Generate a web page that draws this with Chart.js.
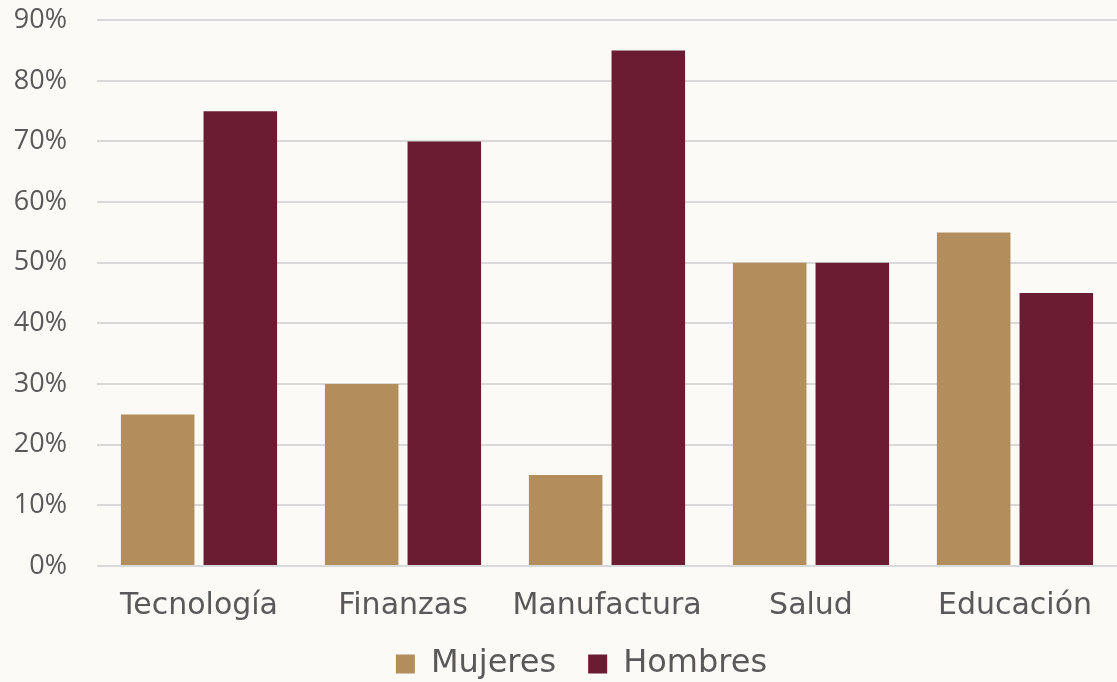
<!DOCTYPE html>
<html>
<head>
<meta charset="utf-8">
<script src="https://cdn.jsdelivr.net/npm/chart.js@4.4.1/dist/chart.umd.min.js"></script>
<style>
  html, body { margin: 0; padding: 0; background: #fbfaf7; overflow: hidden; }
  #wrap { width: 1117px; height: 682px; overflow: hidden; position: relative; }
  #box { position: absolute; left: 0; top: -26px; width: 1117px; height: 738px; }
</style>
</head>
<body>
<div id="wrap"><div id="box"><canvas id="chart"></canvas></div></div>
<script>
/* ---------------- DATA ---------------- */
const categories = ["Tecnología", "Finanzas", "Manufactura", "Salud", "Educación"];
const mujeres = [25, 30, 15, 50, 55];
const hombres = [75, 70, 85, 50, 45];
const yTicks = [0, 10, 20, 30, 40, 50, 60, 70, 80, 90];

const textColor = "#595959";

// move the legend a little right and up, like the original
const legendNudge = {
  id: "legendNudge",
  afterLayout(chart) {
    const l = chart.legend;
    l.left += 23;
    l.right += 23;
    l.top -= 22;
    l.bottom -= 22;
  },
};

new Chart(document.getElementById("chart"), {
  type: "bar",
  data: {
    labels: categories,
    datasets: [
      { label: "Mujeres", data: mujeres, backgroundColor: "#b38e5d" },
      { label: "Hombres", data: hombres, backgroundColor: "#691c32" },
    ],
  },
  options: {
    responsive: true,
    maintainAspectRatio: false,
    animation: false,
    layout: { padding: 0 },
    datasets: { bar: { categoryPercentage: 0.81, barPercentage: 0.89 } },
    scales: {
      x: {
        grid: { display: false },
        border: { display: false },
        ticks: {
          color: textColor,
          padding: 14,
          font: { family: "DejaVu Sans", size: 30 },
        },
      },
      y: {
        min: 0,
        max: 90,
        afterBuildTicks: (axis) => {
          axis.ticks = yTicks.map((v) => ({ value: v }));
        },
        afterFit: (axis) => { axis.width = 97; },
        grid: { color: "#d9d9d9", lineWidth: 2, drawTicks: false },
        border: { display: false },
        ticks: {
          color: textColor,
          padding: 30,
          font: { family: "Open Sans", size: 27 },
          callback: (v) => v + "%",
        },
      },
    },
    plugins: {
      tooltip: { enabled: false },
      legend: {
        position: "bottom",
        labels: {
          color: textColor,
          boxWidth: 19,
          boxHeight: 19,
          padding: 32,
          font: { family: "DejaVu Sans", size: 32 },
        },
      },
    },
  },
  plugins: [legendNudge],
});
</script>
</body>
</html>
